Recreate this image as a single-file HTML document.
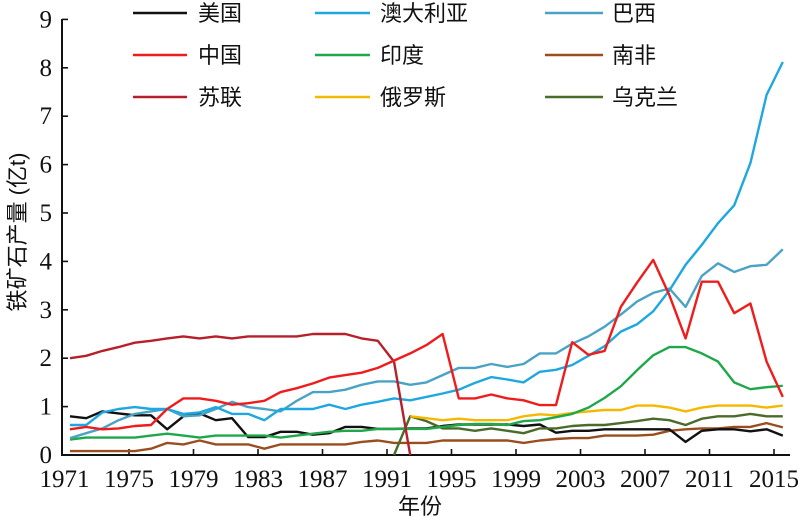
<!DOCTYPE html>
<html><head><meta charset="utf-8"><style>
html,body{margin:0;padding:0;background:#fff;}
svg{display:block;}
text{font-family:"Liberation Serif","Noto Serif CJK SC",serif;fill:#111;}
.cj{font-family:"Liberation Sans","Noto Sans CJK SC",sans-serif;}
</style></head><body>
<svg id="s" width="800" height="520" viewBox="0 0 800 520" xmlns="http://www.w3.org/2000/svg">
<g id="axes" stroke="#111" stroke-width="2" fill="none">
<line x1="62" y1="19" x2="62" y2="455"/>
<line x1="61" y1="455" x2="790" y2="455"/>
</g>
<g id="ticks" stroke="#111" stroke-width="1.6"></g>
<g id="lab" font-size="25"></g>
<text x="25" y="232" font-size="22" class="cj" text-anchor="middle" transform="rotate(-90 25 232)">铁矿石产量 (亿t)</text>
<text x="420" y="514" font-size="22" class="cj" text-anchor="middle">年份</text>
<g id="series" fill="none" stroke-width="2.4" stroke-linejoin="round"></g>
<g id="leg" font-size="22"></g>
</svg>
<script>
var NS="http://www.w3.org/2000/svg";
function el(p,t,a,txt){var e=document.createElementNS(NS,t);for(var k in a)e.setAttribute(k,a[k]);if(txt!==undefined)e.textContent=txt;p.appendChild(e);return e;}
var T=document.getElementById('ticks'),L=document.getElementById('lab');
for(var i=0;i<=9;i++){var y=455-i*48.4;el(T,'line',{x1:62,y1:y,x2:68,y2:y});el(L,'text',{x:52,y:y+8,'text-anchor':'end'},i);}
for(var k=0;k<=11;k++){var x=64.5+k*64.5;if(k>0)el(T,'line',{x1:x,y1:455,x2:x,y2:449});el(L,'text',{x:x,y:487,'text-anchor':'middle'},1971+4*k);}
function X(yr){return 70+(yr-1971)*16.2;}function Y(v){return 455-v*48.4;}
var S=document.getElementById('series');
function line(c,start,vals){var p=vals.map(function(v,i){return X(start+i).toFixed(1)+','+Y(v).toFixed(1)}).join(' ');el(S,'polyline',{points:p,stroke:c});}
line('#9a4e1f',1971,[0.08,0.08,0.08,0.08,0.08,0.13,0.25,0.22,0.3,0.22,0.22,0.22,0.13,0.22,0.22,0.22,0.22,0.22,0.27,0.3,0.25,0.25,0.25,0.3,0.3,0.3,0.3,0.3,0.25,0.3,0.33,0.35,0.35,0.4,0.4,0.4,0.42,0.5,0.53,0.55,0.55,0.58,0.58,0.66,0.57]);
line('#111',1971,[0.8,0.76,0.9,0.86,0.82,0.82,0.53,0.8,0.86,0.72,0.76,0.37,0.37,0.48,0.48,0.42,0.45,0.58,0.58,0.54,0.54,0.55,0.55,0.6,0.63,0.63,0.63,0.63,0.6,0.63,0.46,0.5,0.5,0.53,0.53,0.53,0.53,0.53,0.27,0.5,0.53,0.53,0.49,0.53,0.4]);
line('#4a6b2a',1991,[0,0.8,0.7,0.55,0.55,0.5,0.55,0.5,0.45,0.55,0.55,0.6,0.62,0.62,0.66,0.7,0.75,0.72,0.62,0.75,0.8,0.8,0.85,0.8,0.8]);
line('#f5b800',1992,[0.8,0.76,0.72,0.75,0.72,0.72,0.72,0.8,0.84,0.82,0.87,0.9,0.93,0.93,1.02,1.02,0.98,0.9,0.98,1.02,1.02,1.02,0.98,1.02]);
line('#1fa84a',1971,[0.32,0.36,0.36,0.36,0.36,0.4,0.44,0.4,0.36,0.4,0.4,0.4,0.4,0.36,0.4,0.44,0.48,0.5,0.5,0.54,0.54,0.54,0.54,0.58,0.62,0.64,0.64,0.62,0.7,0.72,0.78,0.85,0.98,1.18,1.42,1.75,2.06,2.23,2.23,2.1,1.93,1.5,1.36,1.4,1.43]);
line('#4aa3c4',1971,[0.35,0.45,0.55,0.72,0.85,0.9,0.95,0.8,0.82,0.95,1.1,0.99,0.95,0.9,1.12,1.3,1.3,1.35,1.45,1.52,1.52,1.45,1.5,1.65,1.8,1.8,1.88,1.82,1.88,2.1,2.1,2.3,2.45,2.65,2.9,3.17,3.35,3.44,3.06,3.7,3.96,3.78,3.9,3.93,4.25]);
line('#1fa7e0',1971,[0.62,0.62,0.88,0.95,0.99,0.95,0.95,0.85,0.88,0.99,0.85,0.85,0.72,0.95,0.95,0.95,1.04,0.95,1.04,1.1,1.17,1.13,1.2,1.27,1.35,1.49,1.61,1.56,1.5,1.72,1.76,1.86,2.05,2.25,2.55,2.7,2.97,3.4,3.93,4.34,4.79,5.16,6.03,7.44,8.12]);
line('#b5202a',1971,[2.0,2.05,2.15,2.23,2.32,2.36,2.41,2.45,2.41,2.45,2.41,2.45,2.45,2.45,2.45,2.5,2.5,2.5,2.41,2.36,1.93,0]);
line('#ee1c1c',1971,[0.53,0.58,0.53,0.55,0.6,0.62,0.95,1.17,1.17,1.12,1.04,1.07,1.12,1.3,1.38,1.48,1.6,1.65,1.7,1.8,1.95,2.1,2.27,2.5,1.17,1.17,1.25,1.17,1.13,1.03,1.03,2.33,2.07,2.15,3.06,3.56,4.03,3.3,2.41,3.58,3.58,2.93,3.13,1.93,1.2]);
var G=document.getElementById('leg');
var items=[['美国','#111'],['澳大利亚','#1fa7e0'],['巴西','#4aa3c4'],['中国','#ee1c1c'],['印度','#1fa84a'],['南非','#9a4e1f'],['苏联','#b5202a'],['俄罗斯','#f5b800'],['乌克兰','#4a6b2a']];
var cx=[[133,187,198],[315,370,380],[545,603,612]],ry=[13,55,97];
items.forEach(function(it,i){var c=cx[i%3],y=ry[Math.floor(i/3)];el(G,'line',{x1:c[0],y1:y,x2:c[1],y2:y,stroke:it[1],'stroke-width':2.4});el(G,'text',{x:c[2],y:y+8,'class':'cj'},it[0]);});
</script>
</body></html>
